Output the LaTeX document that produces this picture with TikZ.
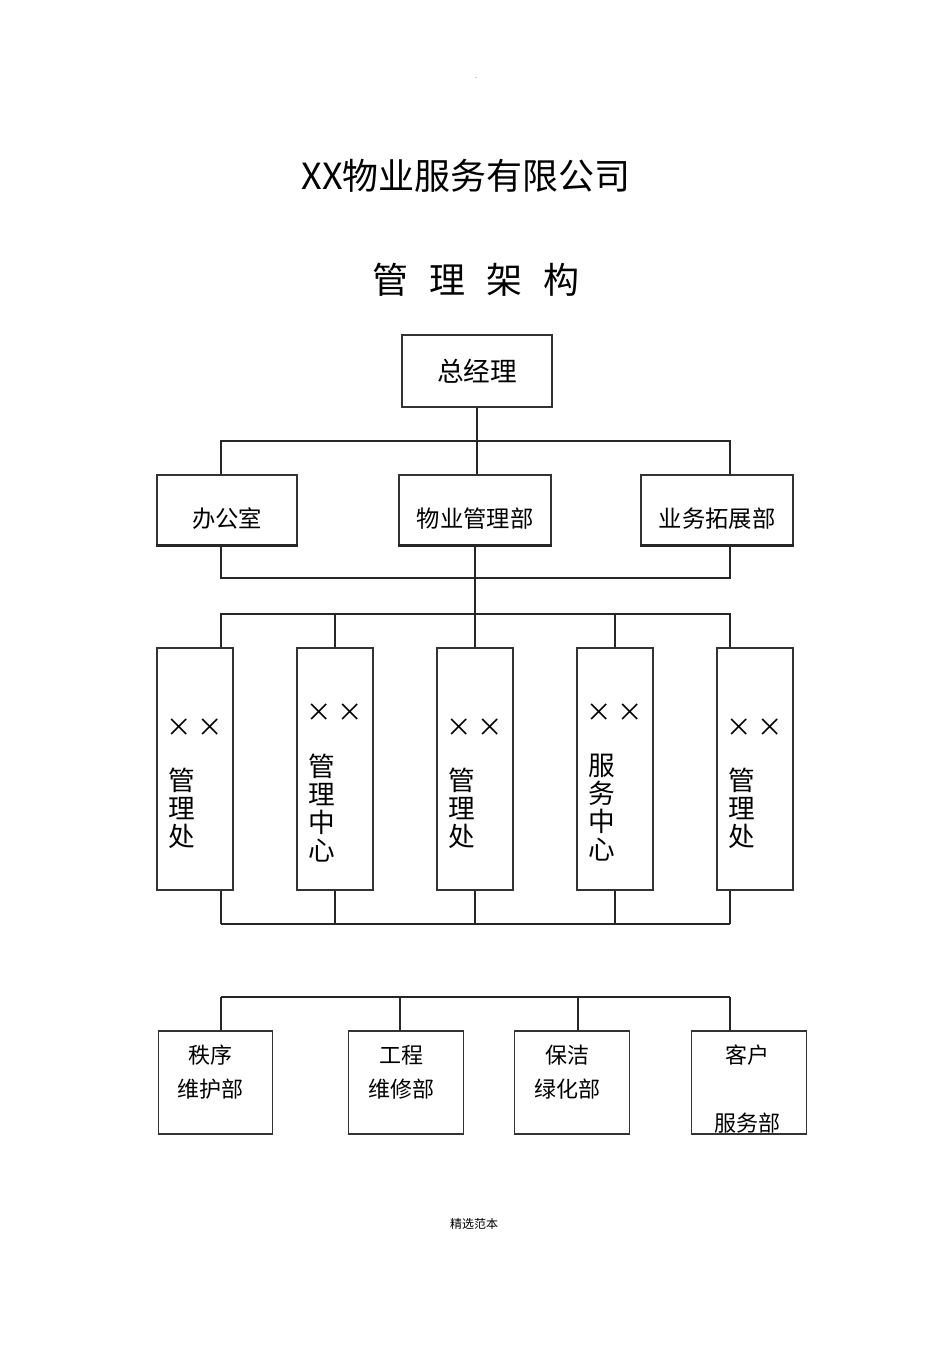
\documentclass[tikz,border=0pt]{standalone}
\usepackage{fontspec}
\setmainfont{Noto Sans CJK SC}
\usetikzlibrary{positioning}

\begin{document}
\begin{tikzpicture}[
    x=0.75pt, y=-0.75pt,
    title_text/.style={inner sep=0pt, font=\fontsize{27}{32}\selectfont},
    top_box/.style={draw=black!80, line width=0.8pt, minimum width=112.5pt, minimum height=54pt, font=\fontsize{20}{24}\selectfont},
    dept_box/.style={draw=black!80, line width=0.8pt, minimum width=114pt, minimum height=52.5pt, text height=27pt, font=\fontsize{17.5}{21}\selectfont},
    unit_box/.style={draw=black!80, line width=0.8pt, minimum width=57pt, minimum height=181.5pt},
    unit_text/.style={align=center, inner sep=0pt, font=\fontsize{20}{21}\selectfont},
    xx_mark/.style={inner sep=0pt, font=\fontsize{19}{24}\selectfont},
    team_box/.style={draw=black!80, line width=0.8pt, minimum width=86pt, minimum height=77.25pt},
    team_text/.style={align=center, inner sep=0pt, font=\fontsize{16.5}{25.5}\selectfont},
    link/.style={line width=0.8pt, draw=black!85},
    edge_line/.style={line width=1.6pt, draw=black!85}
]
    \useasboundingbox (0,0) rectangle (950,1345);

    % Page header and titles
    \node[inner sep=0pt, font=\tiny] (dot) at (476,78) {.};
    \node[title_text] (title) at (466,176) {XX物业服务有限公司};
    \node[title_text, font={\fontsize{27}{32}\selectfont\spaceskip=15.75pt\relax}] (subtitle) at (476,280) {管 理 架 构};

    % General manager and departments
    \node[top_box] (gm) at (477,371) {总经理};
    \node[dept_box, minimum width=105pt] (office) at (227,510) {办公室};
    \node[dept_box] (property_dept) at (475,510) {物业管理部};
    \node[dept_box] (business_dept) at (717,510) {业务拓展部};
    \foreach \d in {office, property_dept, business_dept}
        \draw[edge_line] (\d.south west) -- (\d.south east);

    % Bus above and below the departments
    \coordinate (dept_bus_l) at (221,441);
    \coordinate (dept_bus_r) at (730,441);
    \coordinate (dept_base_l) at (221,578);
    \coordinate (dept_base_r) at (730,578);
    \draw[link] (gm.south) -- (gm.south |- property_dept.north);
    \draw[link] (office.north -| dept_bus_l) |- (dept_bus_r) -- (dept_bus_r |- business_dept.north);
    \draw[link] (office.south -| dept_base_l) |- (dept_base_r) -- (dept_base_r |- business_dept.south);

    % Management units (vertical text)
    \foreach \i/\cx/\xy/\txt in {1/195/728/{管\\理\\处}, 2/335/713/{管\\理\\中\\心}, 3/475/728/{管\\理\\处}, 4/615/713/{服\\务\\中\\心}, 5/755/728/{管\\理\\处}} {
        \node[unit_box] (unit\i) at (\cx,769) {};
        \node[xx_mark] (xx\i) at (\cx,\xy) {× ×};
        \node[unit_text] (unit_label\i) at (\cx-13,808) {\txt};
    }

    % Bus above and below the units
    \coordinate (unit_bus_l) at (221,614);
    \coordinate (unit_bus_r) at (730,614);
    \coordinate (unit_base_l) at (221,924);
    \coordinate (unit_base_r) at (730,924);
    \draw[link] (property_dept.south) -- (property_dept.south |- unit_bus_l);
    \draw[link] (unit1.north -| unit_bus_l) |- (unit_bus_r) -- (unit_bus_r |- unit5.north);
    \draw[link] (unit1.south -| unit_base_l) -- (unit_base_l);
    \draw[link] (unit5.south -| unit_base_r) -- (unit_base_r);
    \foreach \i in {2,3,4} {
        \draw[link] (unit\i.north) -- (unit\i.north |- unit_bus_l);
        \draw[link] (unit\i.south) -- (unit\i.south |- unit_base_l);
    }
    \draw[edge_line] (unit_base_l) -- (unit_base_r);

    % Service teams
    \foreach \i/\cx/\dx/\txt in {1/215.5/221/{秩序\\维护部}, 2/406/400/{工程\\维修部}, 3/572/578/{保洁\\绿化部}} {
        \node[team_box] (team\i) at (\cx,1082.5) {};
        \node[team_text] (team_label\i) at (\cx-5,1072) {\txt};
        \coordinate (team_drop\i) at (\dx,997);
    }
    \node[team_box] (team4) at (749,1082.5) {};
    \node[team_text] (team_label4) at (747,1089.5) {客户\\[25.5pt]服务部};
    \coordinate (team_drop4) at (730,997);
    \draw[link] (team_drop1) -- (team_drop4);
    \foreach \i in {1,...,4}
        \draw[link] (team_drop\i) -- (team_drop\i |- team\i.north);

    % Footer
    \node[inner sep=0pt, font=\fontsize{9}{11}\selectfont] (footer) at (474,1224) {精选范本};
\end{tikzpicture}
\end{document}
